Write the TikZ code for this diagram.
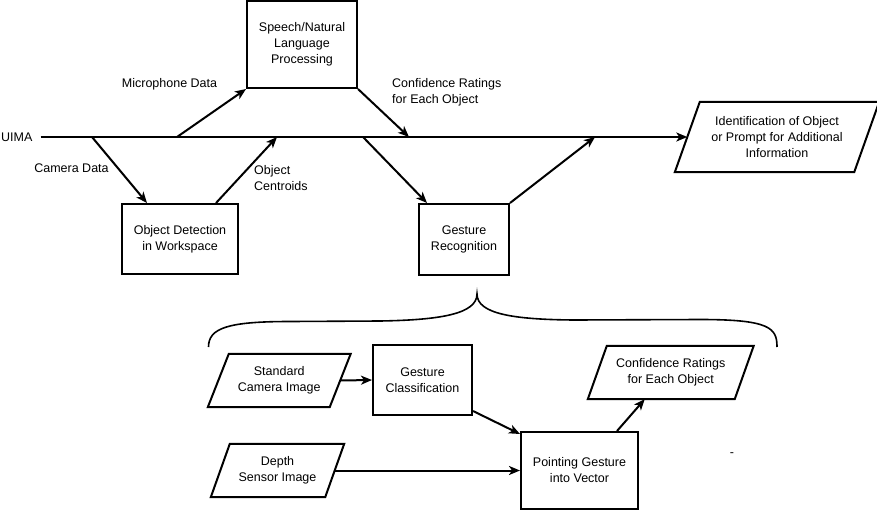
\documentclass[tikz,border=0pt]{standalone}
\usepackage{fontspec}
\setmainfont{Liberation Sans}
\usetikzlibrary{arrows.meta}
\newcommand{\drawpara}[2]{\draw[paraline] ([xshift=#2]#1.north west) -- ([xshift=#2]#1.north east) -- ([xshift=-#2]#1.south east) -- ([xshift=-#2]#1.south west) -- cycle;}
\begin{document}
\begin{tikzpicture}[x=1pt,y=-1pt,
  font=\fontsize{12.5}{16}\selectfont,
  box/.style={draw, line width=2pt, align=center, inner sep=0pt},
  paratext/.style={align=center, inner sep=0pt},
  paraline/.style={line width=2pt, line join=miter},
  lbl/.style={align=center, inner sep=0pt},
  arr/.style={-{Stealth[length=11pt,width=9pt,inset=3pt]}, line width=2pt},
  bracepath/.style={line width=1.6pt}]
\useasboundingbox (0,0) rectangle (877,511);

% top row
\node[lbl, anchor=west] (uima) at (1,137) {UIMA};
\node[box, minimum width=110pt, minimum height=87pt] (speech) at (302,44.5) {Speech/Natural\\Language\\Processing};
\node[box, minimum width=116pt, minimum height=70pt] (objdet) at (180,239) {Object Detection\\in Workspace};
\node[box, minimum width=90pt, minimum height=71pt] (gest) at (464,239.5) {Gesture\\Recognition};
\node[paratext, minimum width=179pt, minimum height=70pt] (ident) at (777,137) {Identification of Object\\or Prompt for Additional\\Information};
\drawpara{ident}{12.5pt}

% main line points
\coordinate (m1) at (177,137);
\coordinate (m2) at (409,137);
\coordinate (m3) at (92,137);
\coordinate (m4) at (277,137);
\coordinate (m5) at (363,137);
\coordinate (m6) at (595,137);

\draw[arr] ([xshift=8pt]uima.east) -- (ident.west);
\draw[arr] (m1) -- (speech.south west);
\draw[arr] (speech.south east) -- (m2);
\draw[arr] (m3) -- ([xshift=26pt]objdet.north west);
\draw[arr] ([xshift=-23pt]objdet.north east) -- (m4);
\draw[arr] (m5) -- ([xshift=9pt]gest.north west);
\draw[arr] (gest.north east) -- (m6);

% labels
\node[lbl] (micl) at (169.5,84) {Microphone Data};
\node[lbl] (caml) at (71.5,168) {Camera Data};
\node[lbl, anchor=west, align=left] (centl) at (254,178.5) {Object\\Centroids};
\node[lbl, anchor=west, align=left] (confl) at (392,92) {Confidence Ratings\\for Each Object};

% brace
\draw[bracepath] (208.5,347) .. controls (208.5,328) and (228,321.5) .. (290,321.5)
  -- (380,321) .. controls (440,320) and (477,314) .. (477,294)
  .. controls (477,314) and (514,319.5) .. (574,320)
  -- (700,319.5) .. controls (770,319.5) and (777,328) .. (777,347);

% lower part
\node[paratext, minimum width=121.5pt, minimum height=53pt] (std) at (279.25,380.5) {Standard\\Camera Image};
\drawpara{std}{10.5pt}
\node[paratext, minimum width=114pt, minimum height=53pt] (depth) at (277.5,470.5) {Depth\\Sensor Image};
\drawpara{depth}{9.5pt}
\node[paratext, minimum width=146.5pt, minimum height=53pt] (confb) at (670.75,372.5) {Confidence Ratings\\for Each Object};
\drawpara{confb}{9.5pt}
\node[box, minimum width=99pt, minimum height=70pt] (gc) at (422.5,380) {Gesture\\Classification};
\node[box, minimum width=117pt, minimum height=77pt] (pg) at (579.5,470.5) {Pointing Gesture\\into Vector};

\draw[arr] (std.east) -- (gc.west);
\draw[arr] ([yshift=5pt]gc.south east) -- ([yshift=-3pt]pg.north west);
\draw[arr] (depth.east) -- (pg.west);
\draw[arr] ([xshift=37.5pt]pg.north) -- ([xshift=-26pt]confb.south);

\node[lbl] (dash) at (732,455) {-};
\end{tikzpicture}
\end{document}
